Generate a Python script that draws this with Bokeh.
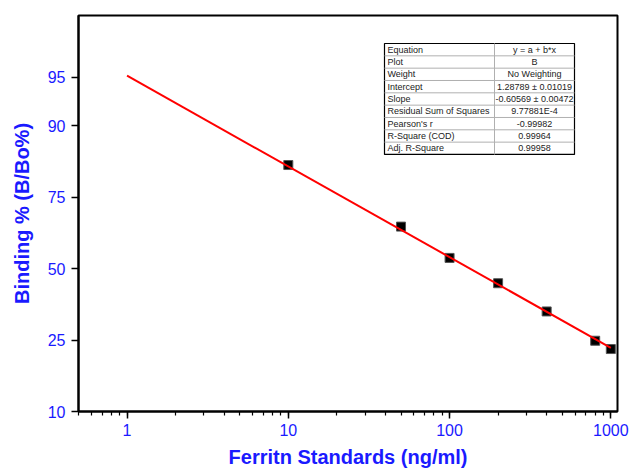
import numpy as np
from bokeh.plotting import figure
from bokeh.models import FixedTicker, CustomJSTickFormatter, BasicTickFormatter, LogTicker
from bokeh.core.properties import value
from bokeh.embed import file_html
from bokeh.resources import INLINE

# ---- data ----
concentration = [10, 50, 100, 200, 400, 800, 1000]          # ng/ml
binding_pct = [83.1, 65.6, 54.1, 44.4, 34.1, 24.8, 22.5]    # B/Bo %
fit_intercept = 1.28789
fit_slope = -0.60569
fit_x = [1, 1000]
y_tick_pct = [10, 25, 50, 75, 90, 95]
x_ticks = [1, 10, 100, 1000]
x_title = "Ferritn Standards (ng/ml)"
y_title = "Binding % (B/Bo%)"

table_labels = ["Equation", "Plot", "Weight", "Intercept", "Slope",
                "Residual Sum of Squares", "Pearson's r", "R-Square (COD)", "Adj. R-Square"]
table_values = ["y = a + b*x", "B", "No Weighting", "1.28789 \u00b1 0.01019",
                "-0.60569 \u00b1 0.00472", "9.77881E-4", "-0.99982", "0.99964", "0.99958"]


def logit10(p):
    p = np.asarray(p, dtype=float)
    return np.log10(p / (100.0 - p))


FONT = "Liberation Sans"
BLUE = "#1a1aff"

x_lo, x_hi = 0.5, 1100
y_lo, y_hi = float(logit10(10)), float(logit10(98))

p = figure(width=632, height=472, x_axis_type="log",
           x_range=(x_lo, x_hi), y_range=(y_lo, y_hi),
           output_backend="svg", toolbar_location=None,
           min_border_left=78, min_border_right=15,
           min_border_top=15, min_border_bottom=61)

p.xgrid.visible = False
p.ygrid.visible = False
p.outline_line_color = "black"
p.outline_line_width = 2
p.background_fill_color = "white"
p.border_fill_color = "white"

# x axis
xa = p.xaxis[0]
xa.ticker = LogTicker(num_minor_ticks=10, desired_num_ticks=4)
xa.formatter = BasicTickFormatter(use_scientific=False)
xa.axis_label = x_title
# y axis
ya = p.yaxis[0]
ya.ticker = FixedTicker(ticks=[float(v) for v in logit10(y_tick_pct)])
ya.formatter = CustomJSTickFormatter(code="""
    const r = Math.pow(10, tick);
    return Math.round(100 * r / (1 + r)).toString();
""")
ya.axis_label = y_title

for ax in (xa, ya):
    ax.axis_line_width = 2
    ax.axis_line_color = "black"
    ax.major_tick_line_width = 1.5
    ax.major_tick_line_color = "black"
    ax.minor_tick_line_width = 1.2
    ax.major_tick_out = 7
    ax.major_tick_in = 0
    ax.minor_tick_out = 4
    ax.minor_tick_in = 0
    ax.major_label_text_font = FONT
    ax.major_label_text_font_size = "16px"
    ax.major_label_text_color = BLUE
    ax.axis_label_text_font = FONT
    ax.axis_label_text_font_size = "20px"
    ax.axis_label_text_font_style = "bold"
    ax.axis_label_text_color = BLUE
xa.minor_tick_line_color = "black"
ya.minor_tick_line_color = None

xa.major_label_standoff = 5
xa.axis_label_standoff = 7
ya.major_label_standoff = 6
ya.axis_label_standoff = 12

# data points
p.scatter(concentration, logit10(binding_pct), marker="square", size=9,
          fill_color="black", line_color="#555555", line_width=1)

# fitted line
fx = np.array(fit_x, dtype=float)
p.line(fx, fit_intercept + fit_slope * np.log10(fx), line_color="red", line_width=2)

# ---- helpers to place the table relative to the frame ----
FL, FT, FW, FH = 78, 15, 539, 396
lx0, lx1 = np.log10(x_lo), np.log10(x_hi)


def xd(px):
    return 10 ** (lx0 + (px - FL) / FW * (lx1 - lx0))


def yd(py):
    return y_hi - (py - FT) / FH * (y_hi - y_lo)


# ---- results table ----
t_left, t_right, t_top, t_split = 384, 574, 43, 494
row_h = 12.33
n = len(table_labels)
t_bottom = t_top + n * row_h

p.quad(left=[xd(t_left)], right=[xd(t_right)], top=[yd(t_top)], bottom=[yd(t_bottom)],
       fill_color="white", line_color="black", line_width=1.2)
row_lines_y = [yd(t_top + i * row_h) for i in range(1, n)]
p.segment(x0=[xd(t_left)] * (n - 1), x1=[xd(t_right)] * (n - 1),
          y0=row_lines_y, y1=row_lines_y, line_color="#b0b0b0", line_width=1)
p.segment(x0=[xd(t_split)], x1=[xd(t_split)], y0=[yd(t_top)], y1=[yd(t_bottom)],
          line_color="#b0b0b0", line_width=1)

row_centers = [yd(t_top + (i + 0.5) * row_h) for i in range(n)]
p.text(x=[xd(t_left + 3)] * n, y=row_centers, text=table_labels,
       text_font=value(FONT), text_font_size="9px", text_color="#222222",
       text_align="left", text_baseline="middle")
p.text(x=[xd((t_split + t_right) / 2)] * n, y=row_centers, text=table_values,
       text_font=value(FONT), text_font_size="9px", text_color="#222222",
       text_align="center", text_baseline="middle")

open("out.html", "w").write(file_html(p, INLINE))
